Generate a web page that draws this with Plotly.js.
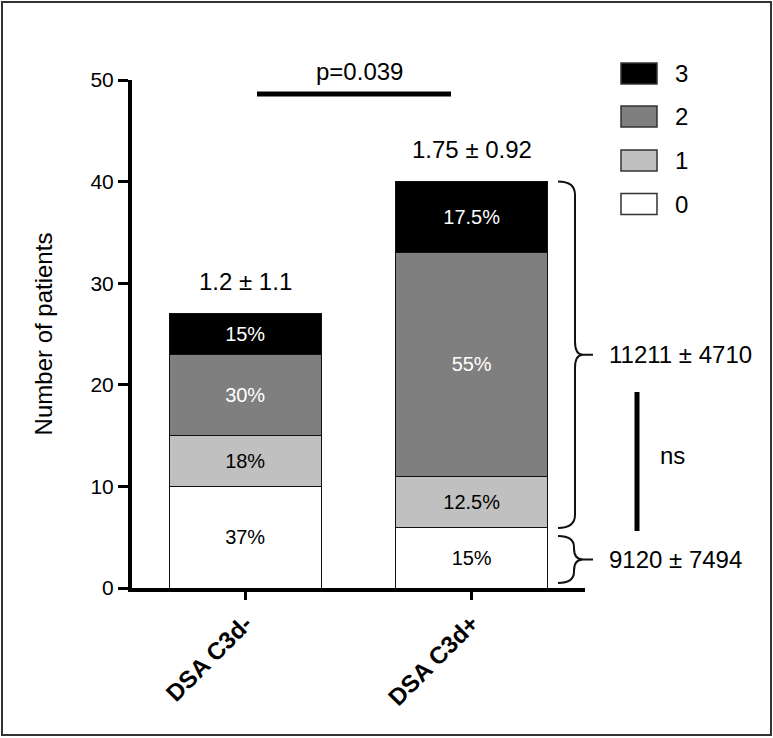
<!DOCTYPE html>
<html><head><meta charset="utf-8">
<script src="https://cdn.plot.ly/plotly-3.0.1.min.js"></script>
<style>html,body{margin:0;padding:0;background:#fff}#chart{width:773px;height:738px}</style>
</head><body><div id="chart"></div>
<script>
// ---- data ----
const categories = ['DSA C3d-', 'DSA C3d+'];
const scoreNames = ['0', '1', '2', '3'];
const score0 = [10, 6];
const score1 = [5, 5];
const score2 = [8, 22];
const score3 = [4, 7];
const pct0 = ['37%', '15%'];
const pct1 = ['18%', '12.5%'];
const pct2 = ['30%', '55%'];
const pct3 = ['15%', '17.5%'];
const meanLabels = ['1.2 ± 1.1', '1.75 ± 0.92'];
const pLabel = 'p=0.039';
const upperGroupLabel = '11211 ± 4710';
const lowerGroupLabel = '9120 ± 7494';
const nsLabel = 'ns';
const yTickVals = [0, 10, 20, 30, 40, 50];

// ---- layout geometry ----
const W = 773, H = 738;
const L = 132, R = 585, T = 80, B = 588;
const FONT = 'Arial, "Liberation Sans", Helvetica, sans-serif';
const px = x => (x - L) / (R - L);          // pixel x -> paper x
const py = y => (B - y) / (B - T);          // pixel y -> paper y
const unitPx = (B - T) / 50;                 // pixels per data unit

const colors = ['#ffffff', '#c0c0c0', '#7f7f7f', '#000000'];
const txtColors = ['#000', '#000', '#fff', '#fff'];
const series = [score0, score1, score2, score3];
const pcts = [pct0, pct1, pct2, pct3];

const traces = series.map((vals, i) => ({
  type: 'bar', x: categories, y: vals, name: scoreNames[i],
  text: pcts[i], textposition: 'inside', insidetextanchor: 'middle',
  textfont: {family: FONT, size: 20, color: txtColors[i]},
  constraintext: 'none',
  marker: {color: colors[i], line: {color: '#111', width: 1}},
  width: 0.67, hoverinfo: 'skip'
}));

const totals = categories.map((c, k) => series.reduce((s, a) => s + a[k], 0));

const annotations = [];
const shapes = [];

// mean labels above bars
categories.forEach((c, k) => annotations.push({
  x: c, y: totals[k], xref: 'x', yref: 'y', text: meanLabels[k], showarrow: false,
  yanchor: 'middle', yshift: 32, font: {family: FONT, size: 24, color: '#000'}
}));

// p-value with bar
annotations.push({x: px(359), y: py(71), xref: 'paper', yref: 'paper', text: pLabel,
  showarrow: false, xanchor: 'center', yanchor: 'middle', font: {family: FONT, size: 24, color: '#000'}});
shapes.push({type: 'line', xref: 'paper', yref: 'paper', x0: px(257), x1: px(451), y0: py(94), y1: py(94),
  line: {color: '#000', width: 5}});

// curly braces
function brace(yTop, yBot, xEnd, xSpine, xCusp, xTick) {
  const r = Math.min(1.3, (yTop - yBot) / 4.2);
  const m = (yTop + yBot) / 2;
  const e = px(xEnd), s = px(xSpine), c = px(xCusp), t = px(xTick);
  return `M ${e},${yTop} Q ${s},${yTop} ${s},${yTop - r} L ${s},${m + r} Q ${s},${m} ${c},${m} ` +
         `Q ${s},${m} ${s},${m - r} L ${s},${yBot + r} Q ${s},${yBot} ${e},${yBot} M ${c},${m} L ${t},${m}`;
}
const upTop = totals[1], upBot = score0[1] - 1 / unitPx;
const loTop = score0[1] - 9 / unitPx, loBot = 5 / unitPx;
shapes.push({type: 'path', xref: 'paper', yref: 'y', path: brace(upTop, upBot, 558, 575, 583, 593),
  line: {color: '#111', width: 2}});
shapes.push({type: 'path', xref: 'paper', yref: 'y', path: brace(loTop, loBot, 558, 574, 583, 593),
  line: {color: '#111', width: 2}});
annotations.push({x: px(607), y: (upTop + upBot) / 2, xref: 'paper', yref: 'y', text: upperGroupLabel,
  showarrow: false, xanchor: 'left', yanchor: 'middle', font: {family: FONT, size: 24, color: '#000'}});
annotations.push({x: px(607), y: (loTop + loBot) / 2, xref: 'paper', yref: 'y', text: lowerGroupLabel,
  showarrow: false, xanchor: 'left', yanchor: 'middle', font: {family: FONT, size: 24, color: '#000'}});

// ns comparison line
shapes.push({type: 'line', xref: 'paper', yref: 'paper', x0: px(637), x1: px(637), y0: py(392), y1: py(531),
  line: {color: '#000', width: 5}});
annotations.push({x: px(672), y: py(455), xref: 'paper', yref: 'paper', text: nsLabel, showarrow: false,
  xanchor: 'center', yanchor: 'middle', font: {family: FONT, size: 24, color: '#000'}});

// custom legend (3,2,1,0 from top)
const legendY = [73.5, 116.5, 160.5, 204];
[3, 2, 1, 0].forEach((idx, j) => {
  const yc = legendY[j];
  shapes.push({type: 'rect', xref: 'paper', yref: 'paper', x0: px(621), x1: px(657),
    y0: py(yc + 10.5), y1: py(yc - 10.5), fillcolor: colors[idx], line: {color: '#333', width: 1.5}});
  annotations.push({x: px(673), y: py(yc), xref: 'paper', yref: 'paper', text: scoreNames[idx],
    showarrow: false, xanchor: 'left', yanchor: 'middle', font: {family: FONT, size: 24, color: '#000'}});
});

// outer frame
shapes.push({type: 'rect', xref: 'paper', yref: 'paper', x0: px(2), x1: px(771), y0: py(735), y1: py(2),
  line: {color: '#333', width: 2}, fillcolor: 'rgba(0,0,0,0)'});

const layout = {
  width: W, height: H, barmode: 'stack', showlegend: false,
  margin: {l: L, r: W - R, t: T, b: H - B, pad: 0},
  paper_bgcolor: '#fff', plot_bgcolor: '#fff',
  font: {family: FONT, color: '#000'},
  xaxis: {type: 'category', range: [-0.5, 1.5], showline: true, linewidth: 4, linecolor: '#000',
    ticks: 'outside', ticklen: 8, tickwidth: 3, tickcolor: '#000', tickangle: -45,
    tickfont: {family: FONT, size: 24, weight: 'bold', color: '#000'},
    showgrid: false, zeroline: false, fixedrange: true},
  yaxis: {range: [0, 50], tickvals: yTickVals, showline: true, linewidth: 4, linecolor: '#000',
    ticks: 'outside', ticklen: 10, tickwidth: 3, tickcolor: '#000',
    tickfont: {family: FONT, size: 21, color: '#000'},
    showgrid: false, zeroline: false, fixedrange: true,
    title: {text: 'Number of patients', font: {family: FONT, size: 24, color: '#000'}, standoff: 32}},
  annotations: annotations, shapes: shapes
};

Plotly.newPlot('chart', traces, layout, {displayModeBar: false, staticPlot: true});
</script>
</body></html>
